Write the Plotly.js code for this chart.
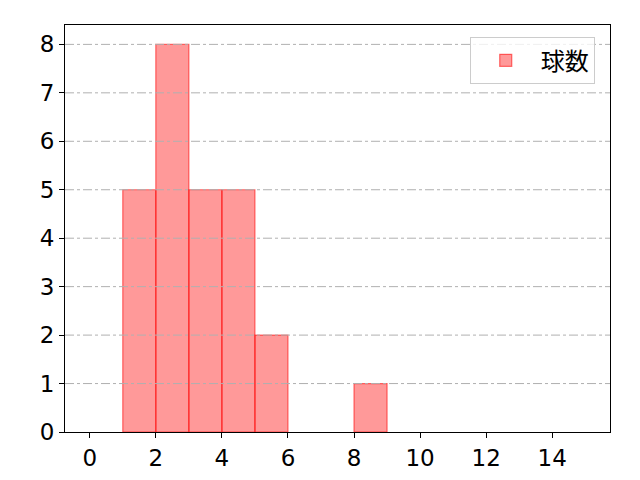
<!DOCTYPE html>
<html>
<head>
<meta charset="utf-8">
<script src="https://cdn.plot.ly/plotly-3.0.1.min.js"></script>
<style>body{margin:0;} #graph{width:640px;height:480px;}</style>
</head>
<body>
<div id="graph"></div>
<script>
// histogram bins (left edges) and counts
var binLeft = [1, 2, 3, 4, 5, 8];
var counts = [5, 8, 5, 5, 2, 1];
var seriesName = '球数';
var xTicks = [0, 2, 4, 6, 8, 10, 12, 14];
var yTicks = [0, 1, 2, 3, 4, 5, 6, 7, 8];

var font = 'Noto Sans CJK JP, DejaVu Sans, sans-serif';
var tickFont = {family: 'DejaVu Sans, sans-serif', size: 23, color: 'black'};

var trace = {
	x: binLeft,
	y: counts,
	type: 'bar',
	name: seriesName,
	width: 1,
	offset: 0,
	marker: {
		color: 'rgba(255,0,0,0.4)',
		line: {color: 'rgba(255,0,0,0.55)', width: 1.2}
	}
};

// dash-dot grid drawn above the bars like the original
var shapes = [];
for (var i = 1; i < yTicks.length; i++) {
	shapes.push({
		type: 'line', xref: 'paper', yref: 'y',
		x0: 0, x1: 1, y0: yTicks[i], y1: yTicks[i],
		layer: 'above',
		line: {color: '#b0b0b0', width: 1, dash: 'dashdot'}
	});
}

var layout = {
	width: 640, height: 480,
	margin: {l: 65, r: 30, t: 25, b: 48},
	paper_bgcolor: 'white', plot_bgcolor: 'white',
	font: {family: font, size: 22, color: 'black'},
	showlegend: true,
	legend: {
		x: 0.972, y: 0.97, xanchor: 'right', yanchor: 'top',
		bgcolor: 'rgba(255,255,255,0.8)', bordercolor: '#cccccc', borderwidth: 1,
		itemwidth: 60,
		font: {family: font, size: 24}
	},
	xaxis: {
		range: [-0.75, 15.75],
		tickvals: xTicks,
		tickfont: tickFont,
		ticks: 'outside', ticklen: 5, tickcolor: 'black',
		showgrid: false, zeroline: false,
		showline: true, linecolor: 'black', linewidth: 1, mirror: true
	},
	yaxis: {
		range: [0, 8.4],
		tickvals: yTicks,
		tickfont: tickFont,
		ticks: 'outside', ticklen: 5, tickcolor: 'black',
		showgrid: false, zeroline: false,
		showline: true, linecolor: 'black', linewidth: 1, mirror: true
	},
	shapes: shapes,
	bargap: 0
};

Plotly.newPlot('graph', [trace], layout, {staticPlot: true});
</script>
</body>
</html>
